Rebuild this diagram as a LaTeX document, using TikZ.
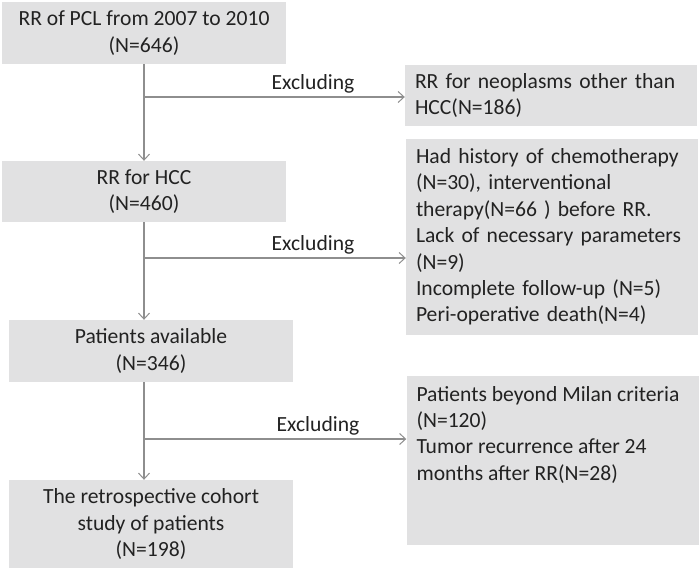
\documentclass[tikz,border=0pt]{standalone}
\usepackage{fontspec}
\setmainfont{Carlito}
\usetikzlibrary{arrows.meta}
\definecolor{boxfill}{HTML}{E1E1E2}
\definecolor{linegray}{HTML}{8E8E8E}
\definecolor{txt}{HTML}{222222}
\begin{document}
\begin{tikzpicture}[x=1pt,y=-1pt,
  lbl/.style={font=\fontsize{21.6}{26.4}\selectfont, text=txt, inner sep=0pt},
  mainbox/.style={lbl, fill=boxfill, draw=none, align=center, minimum width=284pt},
  exbox/.style={lbl, fill=boxfill, draw=none, align=left, text width=272pt, inner xsep=10pt, inner ysep=0pt},
  conn/.style={draw=linegray, line width=1.1pt},
  arr/.style={conn, -{Straight Barb[length=6pt,width=11pt,line width=1pt]}}
]
\useasboundingbox (0,0) rectangle (700,571);
% main column
\node[mainbox, minimum height=62pt] (b1) at (144,33) {RR of PCL from 2007 to 2010\\(N=646)};
\node[mainbox, minimum height=61pt] (b2) at (144,191.5) {RR for HCC\\(N=460)};
\node[mainbox, minimum height=62pt] (b4) at (151,351) {Patients available\\(N=346)};
\node[mainbox, minimum height=88pt] (b6) at (151,524) {The retrospective cohort\\study of patients\\(N=198)};
% exclusion boxes
\node[exbox, minimum height=61pt] (e1) at (551,95.5) {RR for neoplasms other than\\HCC(N=186)};
\node[exbox, minimum height=196pt] (e2) at (552,237) {Had history of chemotherapy\\(N=30), interventional\\therapy(N=66 ) before RR.\\Lack of necessary parameters\\(N=9)\\Incomplete follow-up (N=5)\\Peri-operative death(N=4)};
\node[exbox, minimum height=169pt] (e3) at (552.5,460.5) {};
\node[lbl, align=left, anchor=north west] (e3t) at ([xshift=10pt,yshift=-10pt]e3.north west) {Patients beyond Milan criteria\\(N=120)\\Tumor recurrence after 24\\months after RR(N=28)};
% connectors
\coordinate (j1) at (144,97);
\coordinate (j2) at (144,258);
\coordinate (j3) at (144,439);
\coordinate (s4) at (144,382);
\draw[arr] (b1.south) -- (b2.north);
\draw[arr] (b2.south) -- (b2.south |- b4.north);
\draw[arr] (s4) -- (s4 |- b6.north);
\draw[arr] (j1) -- (j1 -| e1.west);
\draw[arr] (j2) -- (j2 -| e2.west);
\draw[arr] (j3) -- (j3 -| e3.west);
% labels
\node[lbl] (x1) at (313,84) {Excluding};
\node[lbl] (x2) at (313,245) {Excluding};
\node[lbl] (x3) at (318,426) {Excluding};
\end{tikzpicture}
\end{document}
